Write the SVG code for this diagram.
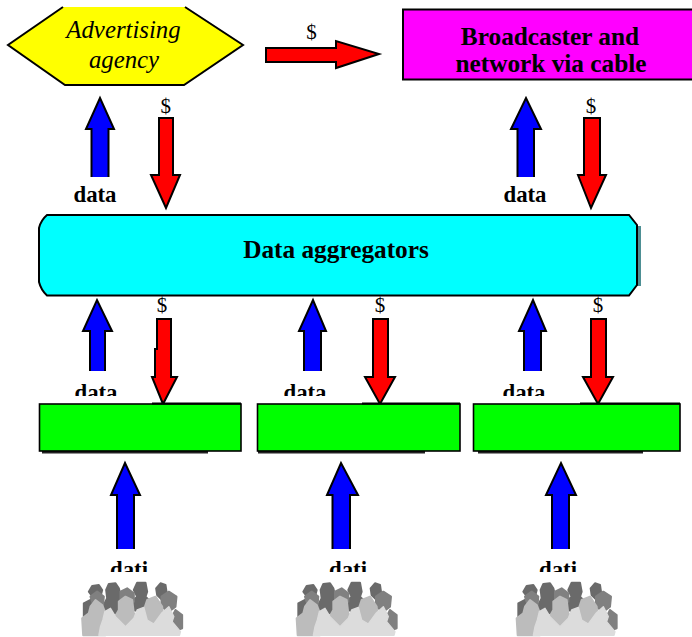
<svg xmlns="http://www.w3.org/2000/svg" width="692" height="637" viewBox="0 0 692 637">
<style>
text{font-family:"Liberation Serif","Times New Roman",serif;fill:#000;text-anchor:middle}
.title{font-size:25.300px;font-weight:bold}
.ital{font-size:24.800px;font-style:italic}
.data{font-size:22.800px;font-weight:bold}
.usd{font-size:21px}
.blue{fill:#00f;stroke:#000;stroke-width:2;stroke-linejoin:miter}
.red{fill:#f00;stroke:#000;stroke-width:2;stroke-linejoin:miter}
.green{fill:#0f0;stroke:#000;stroke-width:1.6}
.shadow{fill:#222}
</style>
<defs>
<clipPath id="clipData"><rect x="0" y="370" width="692" height="26"/></clipPath>
<clipPath id="clipDati"><rect x="0" y="550" width="692" height="22"/></clipPath>
<clipPath id="clipCable"><rect x="403" y="9" width="289" height="63"/></clipPath>
<filter id="soft" x="-5%" y="-5%" width="110%" height="110%"><feGaussianBlur stdDeviation="0.5"/></filter>
<g id="crowd">
<g transform="scale(0.3333)" filter="url(#soft)">
<g fill="#6b6b6b" stroke="#6b6b6b" stroke-width="6" stroke-linejoin="round">
<path d="M70,425 L80,408 L100,405 L110,420 L105,440 L85,445Z"/>
<path d="M122,420 L130,402 L150,400 L160,415 L168,450 L165,490 L120,490 L112,470 L125,445Z"/>
<path d="M205,420 L215,398 L240,398 L245,425 L240,440 L270,470 L255,495 L205,480 L198,455 L215,440Z"/>
<path d="M272,415 L285,400 L300,405 L303,425 L295,455 L275,435Z"/>
<path d="M55,460 L78,448 L85,500 L55,500Z"/>
</g>
<g fill="#808080" stroke="#808080" stroke-width="6" stroke-linejoin="round">
<path d="M330,480 L350,495 L350,535 L335,540 L315,510Z"/>
<path d="M75,440 L95,425 L115,440 L112,470 L85,470Z"/>
<path d="M165,425 L185,415 L205,430 L205,455 L165,455Z"/>
<path d="M288,440 L310,425 L333,440 L330,470 L310,485 L288,470Z"/>
</g>
<g fill="#bcbcbc" stroke="#bcbcbc" stroke-width="6" stroke-linejoin="round">
<path d="M75,470 L90,450 L110,465 L122,495 L120,556 L53,556 L50,505 L70,490Z"/>
<path d="M160,455 L180,440 L200,450 L205,490 L225,515 L190,550 L140,515 L160,480Z"/>
<path d="M245,450 L270,440 L290,470 L295,515 L235,520 L235,480Z"/>
</g>
<path fill="#dcdcdc" stroke="#dcdcdc" stroke-width="4" stroke-linejoin="round" d="M118,485 L135,475 L150,500 L180,530 L205,505 L215,480 L235,472 L245,510 L265,522 L288,490 L310,470 L325,500 L320,515 L345,545 L342,556 L100,556 L105,530 L112,510Z"/>
</g>
</g>
</defs>
<rect width="692" height="637" fill="#fff"/>

<g id="connectors">
<path class="red" d="M266,48 L336,48 L336,41 L379,54 L336,68 L336,62 L266,62Z"/>
<path class="blue" d="M91.500,177 L91.500,129 L86,129 L100,98 L114,129 L108.500,129 L108.500,177"/>
<path class="red" d="M159,118 L173,118 L173,175 L180,175 L166,208 L151,175 L159,175Z"/>
<path class="blue" d="M517.500,177 L517.500,129 L511,129 L526,98 L541,129 L534,129 L534,177"/>
<path class="red" d="M584,118 L600,118 L600,175 L606,175 L591,208 L578,175 L584,175Z"/>
<path class="blue" d="M90,371 L90,331 L83,331 L97,300 L112,331 L105,331 L105,371"/>
<path class="red" d="M157,319 L171,319 L171,377 L177,377 L163,404 L152,377 L155,377 L155,349 L157,349Z"/>
<path class="blue" d="M304,371 L304,331 L299,331 L313,300 L326,331 L321,331 L321,371"/>
<path class="red" d="M373,319 L388,319 L388,377 L395,377 L380,404 L365,377 L373,377Z"/>
<path class="blue" d="M524,371 L524,331 L519,331 L533,300 L546,331 L541,331 L541,371"/>
<path class="red" d="M591,319 L606,319 L606,377 L613,377 L598,404 L583,377 L591,377Z"/>
<path class="blue" d="M117,549 L117,495 L111,495 L125,463 L140,495 L134,495 L134,549"/>
<path class="blue" d="M332.500,549 L332.500,495 L327,495 L341,463 L358,495 L350,495 L350,549"/>
<path class="blue" d="M552,549 L552,495 L546,495 L561,463 L576,495 L569,495 L569,549"/>
</g>

<g id="labels">
<text class="usd" x="311.500" y="39">$</text>
<text class="usd" x="165.700" y="113">$</text>
<text class="usd" x="591" y="113">$</text>
<text class="usd" x="162" y="312">$</text>
<text class="usd" x="380" y="312">$</text>
<text class="usd" x="598" y="312">$</text>
<text class="data" x="95" y="202">data</text>
<text class="data" x="525" y="202">data</text>
<g clip-path="url(#clipData)">
<text class="data" x="96" y="399.500">data</text>
<text class="data" x="305" y="399.500">data</text>
<text class="data" x="524" y="399.500">data</text>
</g>
<g clip-path="url(#clipDati)">
<text class="data" x="129" y="576.500">dati</text>
<text class="data" x="348" y="576.500">dati</text>
<text class="data" x="558" y="576.500">dati</text>
</g>
</g>

<g id="advertising-agency">
<path fill="#ff0" stroke="#000" stroke-width="2" d="M63,7 L8,45 L65,85 L184,85 L243,45 L185,7"/>
<text class="ital" x="123.500" y="38">Advertising</text>
<text class="ital" x="124" y="68">agency</text>
</g>

<g id="broadcaster">
<rect x="403" y="9.500" width="295" height="70" fill="#f0f" stroke="#000" stroke-width="2"/>
<text class="title" x="550" y="45">Broadcaster and</text>
<text class="title" x="551" y="72" clip-path="url(#clipCable)">network via cable</text>
</g>

<g id="data-aggregators">
<rect x="636" y="226" width="5" height="60" fill="#4d8f94"/>
<path fill="#0ff" stroke="#000" stroke-width="2" d="M47,215 L629,215 L637,225 L637,285 L629,295.500 L47,295.500 Q41,290 39,282 L39,228 Q41,220 47,215Z"/>
<text class="title" x="336" y="258">Data aggregators</text>
</g>

<g id="box-1">
<rect class="shadow" x="42" y="450" width="166" height="3.500"/>
<rect class="green" x="39.500" y="404" width="201.500" height="47"/>
<path d="M152,403.500 L241,403.500" stroke="#000" stroke-width="2" fill="none"/>
</g>
<g id="box-2">
<rect class="shadow" x="258" y="450" width="167" height="3.500"/>
<rect class="green" x="257.500" y="404" width="202.500" height="47"/>
<path d="M362,403.500 L460,403.500" stroke="#000" stroke-width="2" fill="none"/>
</g>
<g id="box-3">
<rect class="shadow" x="478" y="450" width="165" height="3.500"/>
<rect class="green" x="473.500" y="404" width="206.500" height="47"/>
<path d="M580,403.500 L680,403.500" stroke="#000" stroke-width="2" fill="none"/>
</g>

<g id="audience-1"><use href="#crowd" transform="translate(65.500,450)"/></g>
<g id="audience-2"><use href="#crowd" transform="translate(280,450)"/></g>
<g id="audience-3"><use href="#crowd" transform="translate(500,450)"/></g>
</svg>
